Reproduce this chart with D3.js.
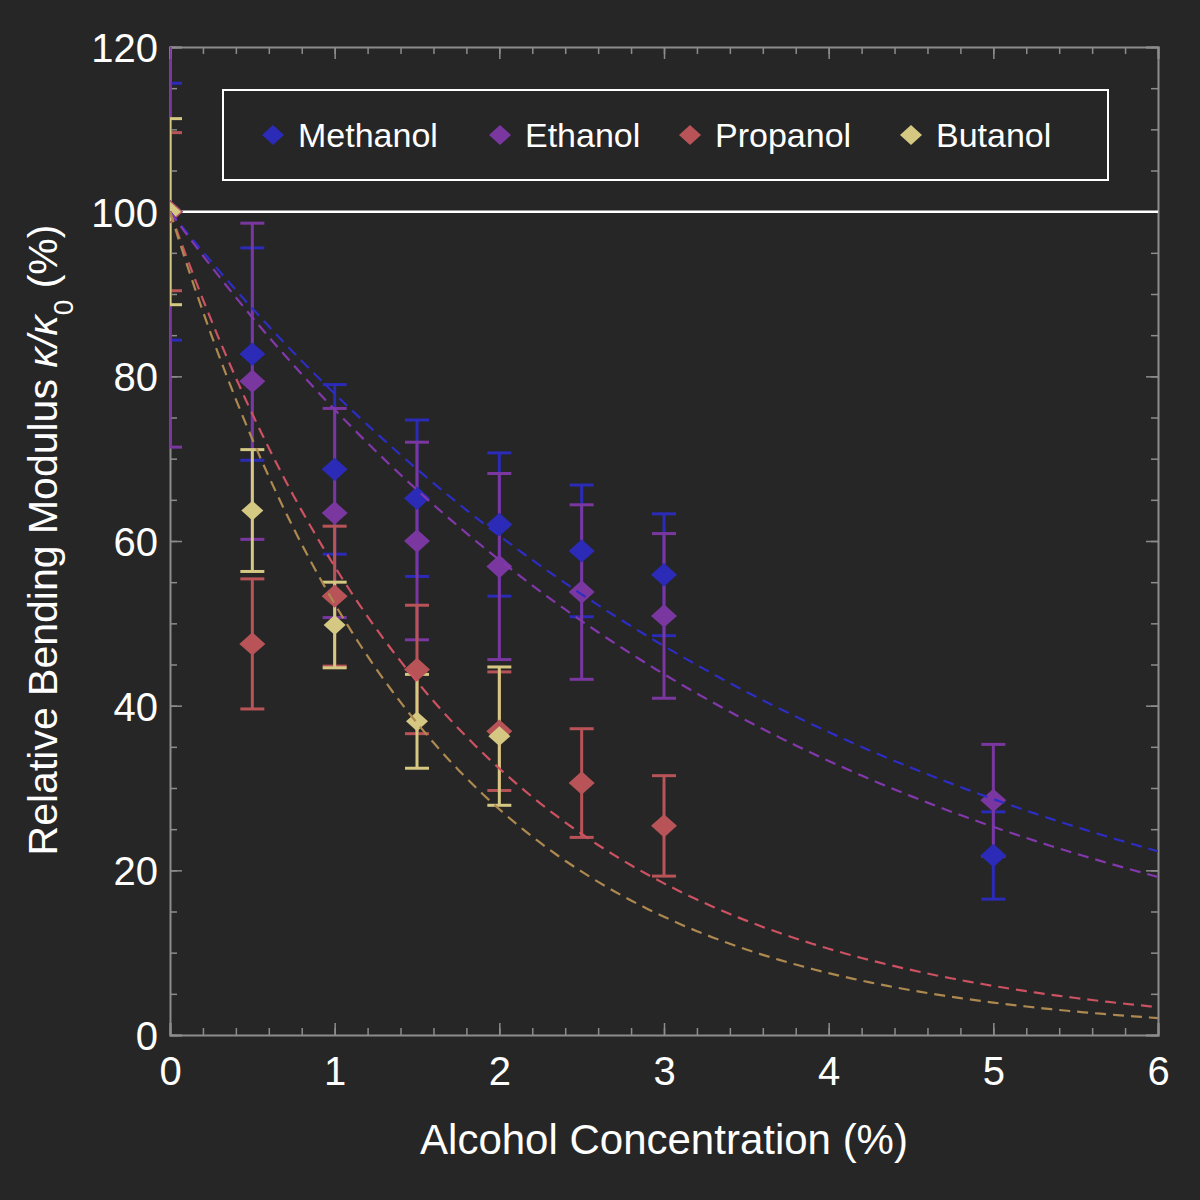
<!DOCTYPE html>
<html>
<head>
<meta charset="utf-8">
<script src="https://cdn.jsdelivr.net/npm/d3@7"></script>
<style>
  body { margin: 0; background: #262626; }
  svg { display: block; }
</style>
</head>
<body>
<svg width="1200" height="1200"></svg>
<script>
// data
var concentrations = [0, 0.5, 1, 1.5, 2, 2.5, 3, 5];
var seriesNames = ["Methanol", "Ethanol", "Propanol", "Butanol"];
var methanolX = [0, 0.5, 1, 1.5, 2, 2.5, 3, 5];
var methanolY = [100, 82.7, 68.7, 65.2, 62.0, 58.8, 55.9, 21.8];
var methanolErr = [15.6, 12.9, 10.3, 9.5, 8.7, 8.0, 7.4, 5.3];
var ethanolX = [0, 0.5, 1, 1.5, 2, 2.5, 3, 5];
var ethanolY = [100, 79.4, 63.4, 60.0, 56.9, 53.8, 50.9, 28.5];
var ethanolErr = [28.6, 19.2, 12.7, 12.0, 11.3, 10.6, 10.0, 6.8];
var propanolX = [0, 0.5, 1, 1.5, 2, 2.5, 3];
var propanolY = [100, 47.5, 53.3, 44.4, 36.9, 30.6, 25.4];
var propanolErr = [9.6, 7.9, 8.5, 7.8, 7.2, 6.6, 6.1];
var butanolX = [0, 0.5, 1, 1.5, 2];
var butanolY = [100, 63.7, 49.8, 38.1, 36.3];
var butanolErr = [11.3, 7.4, 5.2, 5.7, 8.4];
// exponential fit rates, y = 100 * exp(-k x)
var fitRates = [0.25, 0.275, 0.564, 0.647];

var markerColors = ["#2b2bb8", "#7a37a0", "#b85458", "#d5c882"];
var fitColors = ["#2d2dc4", "#8238ab", "#cc5262", "#ad8950"];
var markerSize = [13, 13, 13, 11];

var xTicks = [0, 1, 2, 3, 4, 5, 6];
var yTicks = [0, 20, 40, 60, 80, 100, 120];

var series = [
  {x: methanolX, y: methanolY, e: methanolErr},
  {x: ethanolX, y: ethanolY, e: ethanolErr},
  {x: propanolX, y: propanolY, e: propanolErr},
  {x: butanolX, y: butanolY, e: butanolErr}
];

var svg = d3.select("svg"),
    margin = {top: 47, right: 42, bottom: 165, left: 170},
    width = +svg.attr("width") - margin.left - margin.right,
    height = +svg.attr("height") - margin.top - margin.bottom;

var x = d3.scaleLinear().domain([0, 6]).range([0, width]);
var y = d3.scaleLinear().domain([0, 120]).range([height, 0]);

var font = "'Liberation Sans', Arial, Helvetica, sans-serif";
var axisColor = "#8c8c8c";

var g = svg.append("g")
    .attr("transform", "translate(" + margin.left + "," + margin.top + ")");

svg.append("defs").append("clipPath").attr("id", "plotclip")
  .append("rect").attr("width", width).attr("height", height);

// minor ticks, all four sides
function minorAxis(axis, t, vals) {
  var ax = g.append("g").attr("transform", t)
    .call(axis.tickValues(vals).tickSize(-7).tickFormat(""));
  ax.select(".domain").remove();
  ax.selectAll("line").attr("stroke", axisColor).attr("stroke-width", 1.5);
}
var xMinor = d3.range(0, 6.01, 0.2).map(function(d) { return +d.toFixed(1); });
var yMinor = d3.range(0, 121, 5);
minorAxis(d3.axisBottom(x), "translate(0," + height + ")", xMinor);
minorAxis(d3.axisTop(x), "translate(0,0)", xMinor);
minorAxis(d3.axisLeft(y), "translate(0,0)", yMinor);
minorAxis(d3.axisRight(y), "translate(" + width + ",0)", yMinor);

// major ticks
function majorAxis(axis, t, vals, labels) {
  var ax = g.append("g").attr("transform", t)
    .call(axis.tickValues(vals).tickSize(-12).tickPadding(labels ? 12 : 0)
      .tickFormat(labels ? d3.format("d") : ""));
  ax.select(".domain").attr("stroke", axisColor).attr("stroke-width", 2);
  ax.selectAll("line").attr("stroke", axisColor).attr("stroke-width", 1.5);
  ax.selectAll("text")
    .attr("fill", "#ffffff")
    .style("font-family", font)
    .style("font-size", "40px");
  return ax;
}
majorAxis(d3.axisBottom(x), "translate(0," + height + ")", xTicks, true)
  .selectAll("text").attr("dy", "0.95em");
majorAxis(d3.axisTop(x), "translate(0,0)", xTicks, false);
majorAxis(d3.axisLeft(y), "translate(0,0)", yTicks, true)
  .selectAll("text").attr("dy", "0.36em");
majorAxis(d3.axisRight(y), "translate(" + width + ",0)", yTicks, false);

var plot = g.append("g").attr("clip-path", "url(#plotclip)");

// reference line at 100 %
plot.append("line")
  .attr("x1", x(0)).attr("x2", x(6))
  .attr("y1", y(100)).attr("y2", y(100))
  .attr("stroke", "#ffffff")
  .attr("stroke-width", 2.5);

// error bars
series.forEach(function(s, i) {
  var rows = s.x.map(function(d, j) { return {x: d, y: s.y[j], e: s.e[j]}; });
  var eb = plot.append("g").attr("stroke", markerColors[i]).attr("stroke-width", 3);
  eb.selectAll(".bar").data(rows).enter().append("line")
    .attr("x1", function(d) { return x(d.x); })
    .attr("x2", function(d) { return x(d.x); })
    .attr("y1", function(d) { return y(d.y + d.e); })
    .attr("y2", function(d) { return y(d.y - d.e); });
  eb.selectAll(".capTop").data(rows).enter().append("line")
    .attr("x1", function(d) { return x(d.x) - 12; })
    .attr("x2", function(d) { return x(d.x) + 12; })
    .attr("y1", function(d) { return y(d.y + d.e); })
    .attr("y2", function(d) { return y(d.y + d.e); });
  eb.selectAll(".capBot").data(rows).enter().append("line")
    .attr("x1", function(d) { return x(d.x) - 12; })
    .attr("x2", function(d) { return x(d.x) + 12; })
    .attr("y1", function(d) { return y(d.y - d.e); })
    .attr("y2", function(d) { return y(d.y - d.e); });
});

function diamond(r) {
  return "M0," + (-r * 0.9) + "L" + r + ",0L0," + (r * 0.9) + "L" + (-r) + ",0Z";
}

// markers
series.forEach(function(s, i) {
  plot.selectAll(".pt" + i)
    .data(s.x.map(function(d, j) { return [d, s.y[j]]; }))
    .enter().append("path")
    .attr("d", diamond(markerSize[i]))
    .attr("transform", function(d) { return "translate(" + x(d[0]) + "," + y(d[1]) + ")"; })
    .attr("fill", markerColors[i]);
});

// fitted curves
var line = d3.line()
  .x(function(d) { return x(d[0]); })
  .y(function(d) { return y(d[1]); });
var xs = d3.range(0, 6.001, 0.05);
fitRates.forEach(function(k, i) {
  plot.append("path")
    .datum(xs.map(function(t) { return [t, 100 * Math.exp(-k * t)]; }))
    .attr("d", line)
    .attr("fill", "none")
    .attr("stroke", fitColors[i])
    .attr("stroke-width", 2.2)
    .attr("stroke-dasharray", "11,7");
});

// legend
var legend = svg.append("g");
legend.append("rect")
  .attr("x", 223).attr("y", 90)
  .attr("width", 885).attr("height", 90)
  .attr("fill", "none")
  .attr("stroke", "#ffffff")
  .attr("stroke-width", 2);
var legendX = [273, 500, 690, 911];
seriesNames.forEach(function(name, i) {
  legend.append("path")
    .attr("d", diamond(11))
    .attr("transform", "translate(" + legendX[i] + ",135)")
    .attr("fill", markerColors[i]);
  legend.append("text")
    .attr("x", legendX[i] + 25)
    .attr("y", 135)
    .attr("dy", "0.35em")
    .attr("fill", "#ffffff")
    .style("font-family", font)
    .style("font-size", "34px")
    .text(name);
});

// axis titles
svg.append("text")
  .attr("x", margin.left + width / 2)
  .attr("y", 1154)
  .style("text-anchor", "middle")
  .style("font-family", font)
  .style("font-size", "42px")
  .attr("fill", "#ffffff")
  .text("Alcohol Concentration (%)");

var yl = svg.append("text")
  .attr("transform", "translate(57,540) rotate(-90)")
  .style("text-anchor", "middle")
  .style("font-family", font)
  .style("font-size", "41px")
  .attr("fill", "#ffffff");
yl.append("tspan").text("Relative Bending Modulus ");
yl.append("tspan").style("font-style", "italic").text("\u03BA/\u03BA");
yl.append("tspan").attr("baseline-shift", "sub").style("font-size", "28px").text("0");
yl.append("tspan").text(" (%)");
</script>
</body>
</html>
